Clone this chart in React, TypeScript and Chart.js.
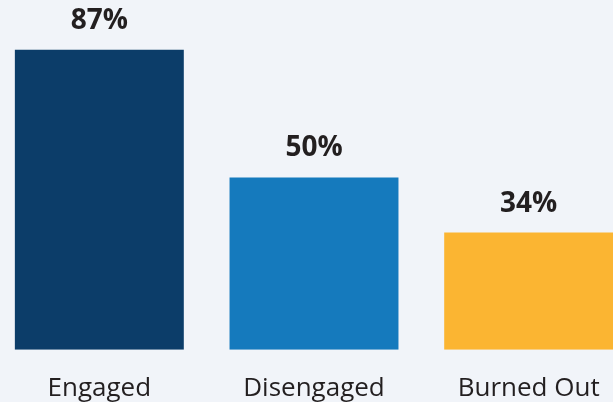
import React, { useEffect, useRef } from "react";
import { Chart, registerables } from "chart.js";

Chart.register(...registerables);

const categories = ["Engaged", "Disengaged", "Burned Out"];
const values = [87, 50, 34];
const valueLabels = ["87%", "50%", "34%"];
const barColors = ["#0c3d69", "#157abd", "#fbb532"];
const BG = "#f1f4f9";

const valueLabelPlugin = {
  id: "valueLabels",
  afterDatasetsDraw(chart: any) {
    const ctx = chart.ctx;
    const meta = chart.getDatasetMeta(0);
    ctx.save();
    ctx.font = "bold 28px 'Open Sans'";
    ctx.fillStyle = "#231f20";
    ctx.textAlign = "center";
    ctx.textBaseline = "alphabetic";
    meta.data.forEach((bar: any, i: number) => {
      ctx.fillText(valueLabels[i], bar.x, bar.y - 21);
    });
    ctx.restore();
  },
};

export default function App() {
  const ref = useRef<HTMLCanvasElement | null>(null);
  useEffect(() => {
    document.documentElement.style.background = BG;
    document.body.style.background = BG;
    document.body.style.margin = "0";
    document.body.style.overflow = "hidden";
    const chart = new Chart(ref.current!, {
      type: "bar",
      data: {
        labels: categories,
        datasets: [
          {
            data: values,
            backgroundColor: barColors,
            barPercentage: 0.787,
            categoryPercentage: 1,
          },
        ],
      },
      options: {
        animation: false,
        responsive: false,
        maintainAspectRatio: false,
        layout: { padding: { top: 5, left: 0, right: 0, bottom: 0 } },
        plugins: { legend: { display: false }, tooltip: { enabled: false } },
        scales: {
          x: {
            grid: { display: false, drawTicks: false },
            border: { display: false },
            ticks: {
              color: "#231f20",
              font: { family: "'Open Sans'", size: 26 },
              padding: 23,
            },
          },
          y: {
            display: false,
            min: 0,
            max: 100,
          },
        },
      },
      plugins: [valueLabelPlugin],
    });
    return () => chart.destroy();
  }, []);
  return (
    <div style={{ position: "absolute", left: -8, top: 0, width: 644, height: 427, overflow: "hidden" }}>
      <canvas ref={ref} width={644} height={427} style={{ display: "block" }} />
    </div>
  );
}
